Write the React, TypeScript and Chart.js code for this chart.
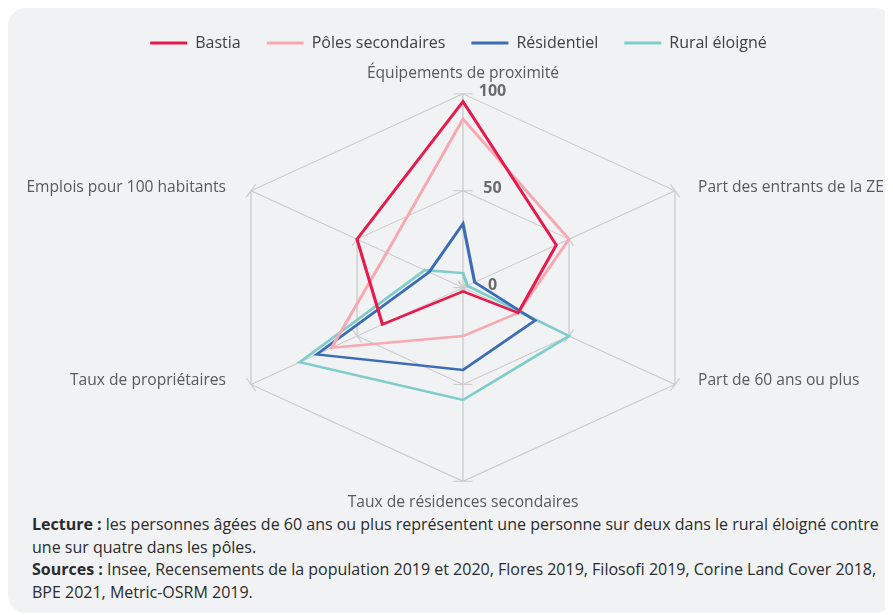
import React, { useEffect, useRef } from "react";
import { Chart, registerables } from "chart.js";

Chart.register(...registerables);

// ---------- data ----------
const axisLabels = [
  "Équipements de proximité",
  "Part des entrants de la ZE",
  "Part de 60 ans ou plus",
  "Taux de résidences secondaires",
  "Taux de propriétaires",
  "Emplois pour 100 habitants",
];
const seriesNames = ["Bastia", "Pôles secondaires", "Résidentiel", "Rural éloigné"];
const bastia = [96, 44, 26, 2, 38, 50];
const polesSecondaires = [87, 50, 26, 25, 62, 36];
const residentiel = [33, 5.5, 34, 42.5, 69, 16];
const ruralEloigne = [7.5, 2, 50, 58, 77, 18];
const seriesColors = ["#e8194b", "#f7a9b2", "#3b6cb5", "#7fcdca"];
const tickValues = [0, 50, 100];

// ---------- geometry / style ----------
const FONT = "'Open Sans', sans-serif";
const GRID = "#cbcbcb";
const CENTER_X = 455; // canvas coords
const CENTER_Y = 279.6;
const RADIUS_V = 193.7;
const RADIUS_H = 244.8;

function factors(scale: any) {
  return { kx: RADIUS_H / scale.drawingArea, ky: RADIUS_V / scale.drawingArea };
}
function mapPt(scale: any, x: number, y: number) {
  const { kx, ky } = factors(scale);
  return { x: CENTER_X + kx * (x - scale.xCenter), y: CENTER_Y + ky * (y - scale.yCenter) };
}
function applyStretch(ctx: CanvasRenderingContext2D, scale: any) {
  const { kx, ky } = factors(scale);
  ctx.translate(CENTER_X, CENTER_Y);
  ctx.scale(kx, ky);
  ctx.translate(-scale.xCenter, -scale.yCenter);
}

const stretchPlugin = {
  id: "stretchRadar",
  beforeDraw(chart: any) {
    const scale: any = chart.scales.r;
    if (scale && !scale.__wrapped) {
      const orig = scale.drawGrid;
      scale.drawGrid = function (area: any) {
        const ctx: CanvasRenderingContext2D = this.ctx;
        ctx.save();
        applyStretch(ctx, this);
        orig.call(this, area);
        const n = chart.data.labels.length;
        const h = (7.5 * this.drawingArea) / RADIUS_V;
        ctx.strokeStyle = GRID;
        ctx.lineWidth = 1;
        for (let i = 0; i < n; i++) {
          for (const v of tickValues) {
            const d = this.getDistanceFromCenterForValue(v);
            const p = this.getPointPosition(i, d);
            const px = -Math.sin(p.angle);
            const py = Math.cos(p.angle);
            ctx.beginPath();
            ctx.moveTo(p.x - px * h, p.y - py * h);
            ctx.lineTo(p.x + px * h, p.y + py * h);
            ctx.stroke();
          }
        }
        ctx.restore();
      };
      scale.__wrapped = true;
    }
  },
  beforeDatasetsDraw(chart: any) {
    chart.ctx.save();
    applyStretch(chart.ctx, chart.scales.r);
  },
  afterDatasetsDraw(chart: any) {
    chart.ctx.restore();
  },
  afterDraw(chart: any) {
    const ctx: CanvasRenderingContext2D = chart.ctx;
    const scale: any = chart.scales.r;
    ctx.save();
    ctx.textBaseline = "middle";
    ctx.font = `15.6px ${FONT}`;
    ctx.fillStyle = "#595959";
    (chart.data.labels as string[]).forEach((label, i) => {
      const p0 = scale.getPointPosition(i, scale.drawingArea);
      const p = mapPt(scale, p0.x, p0.y);
      const dx = p.x - CENTER_X;
      if (Math.abs(dx) < 1) {
        ctx.textAlign = "center";
        ctx.fillText(label, p.x, p.y < CENTER_Y ? p.y - 20.5 : p.y + 21);
      } else if (dx > 0) {
        ctx.textAlign = "left";
        ctx.fillText(label, p.x + 23, p.y - 3.5);
      } else {
        ctx.textAlign = "right";
        ctx.fillText(label, p.x - 25, p.y - 3.5);
      }
    });
    ctx.font = `bold 16px ${FONT}`;
    ctx.fillStyle = "#6b6b6b";
    ctx.textAlign = "center";
    scale.ticks.forEach((t: any) => {
      const d = scale.getDistanceFromCenterForValue(t.value);
      const p0 = scale.getPointPosition(0, d);
      const p = mapPt(scale, p0.x, p0.y);
      ctx.fillText(String(t.value), p.x + 29.5, p.y - 2);
    });
    ctx.restore();
  },
};

export default function App() {
  const ref = useRef<HTMLCanvasElement | null>(null);

  useEffect(() => {
    document.documentElement.style.overflow = "hidden";
    document.body.style.overflow = "hidden";
    if (!ref.current) return;
    const seriesValues = [bastia, polesSecondaires, residentiel, ruralEloigne];
    const chart = new Chart(ref.current, {
      type: "radar",
      data: {
        labels: axisLabels,
        datasets: seriesNames.map((name, i) => ({
          label: name,
          data: seriesValues[i],
          borderColor: seriesColors[i],
          backgroundColor: seriesColors[i],
          borderWidth: 2.5,
          pointRadius: 0,
          pointHoverRadius: 0,
          fill: false,
          tension: 0,
          clip: false as any,
        })),
      },
      options: {
        responsive: false,
        animation: false,
        events: [],
        layout: { padding: { top: 1, left: 16, right: 0, bottom: 63 } },
        plugins: {
          tooltip: { enabled: false },
          legend: {
            position: "top",
            labels: {
              boxWidth: 37,
              boxHeight: 3,
              padding: 26,
              color: "#404040",
              font: { family: FONT, size: 16 },
              generateLabels(c: any) {
                const items = (Chart.defaults.plugins.legend.labels as any).generateLabels(c);
                return items.map((it: any) => ({ ...it, lineWidth: 0, fillStyle: it.strokeStyle }));
              },
            },
          },
        },
        scales: {
          r: {
            min: 0,
            max: 100,
            beginAtZero: true,
            ticks: { display: false, stepSize: 50 },
            pointLabels: { display: false },
            grid: { color: GRID, lineWidth: 1, circular: false },
            angleLines: { color: GRID, lineWidth: 1 },
          },
        },
      } as any,
      plugins: [stretchPlugin as any],
    });
    return () => chart.destroy();
  }, []);

  return (
    <div
      style={{
        position: "relative",
        width: 885,
        height: 605,
        background: "#f1f2f4",
        borderRadius: 18,
        overflow: "hidden",
        fontFamily: FONT,
      }}
    >
      <canvas ref={ref} width={885} height={505} style={{ position: "absolute", left: 0, top: 0 }} />
      <div
        style={{
          position: "absolute",
          left: 24,
          top: 505,
          fontSize: 16,
          lineHeight: "22.6px",
          color: "#2b2b2b",
          whiteSpace: "nowrap",
        }}
      >
        <b>Lecture :</b> les personnes âgées de 60 ans ou plus représentent une personne sur deux dans le rural éloigné contre
        <br />
        une sur quatre dans les pôles.
        <br />
        <b>Sources :</b> Insee, Recensements de la population 2019 et 2020, Flores 2019, Filosofi 2019, Corine Land Cover 2018,
        <br />
        BPE 2021, Metric-OSRM 2019.
      </div>
    </div>
  );
}
